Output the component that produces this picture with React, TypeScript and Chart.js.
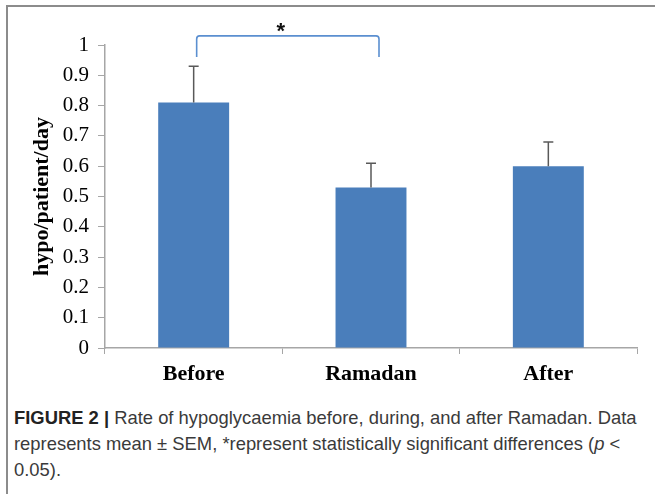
import React, { useEffect, useRef } from "react";
import { Chart, registerables } from "chart.js";

Chart.register(...registerables);

const categories = ["Before", "Ramadan", "After"];
const means = [0.81, 0.53, 0.6];
const sems = [0.12, 0.08, 0.08];
const yTicksMax = 1;
const yStep = 0.1;
const yTitle = "hypo/patient/day";
const sigFrom = 0; // index of Before
const sigTo = 1; // index of Ramadan
const sigLevel = 1.03;
const sigDrop = 0.96;
const sigMark = "*";
const captionBold = "FIGURE 2 |";
const captionLine1 = " Rate of hypoglycaemia before, during, and after Ramadan. Data";
const captionLine2 = "represents mean \u00b1 SEM, *represent statistically significant differences (";
const captionItalic = "p";
const captionLine2End = " <";
const captionLine3 = "0.05).";

const BAR = "#4a7ebb";
const AXIS = "#a6a6a6";

const overlayPlugin = {
  id: "overlay",
  afterDatasetsDraw(chart: any) {
    const { ctx, scales } = chart;
    const x = scales.x;
    const y = scales.y;
    ctx.save();
    // error bars (upper only)
    ctx.strokeStyle = "#595959";
    ctx.lineWidth = 1.5;
    means.forEach((m, i) => {
      const cx = x.getPixelForValue(i);
      const y0 = y.getPixelForValue(m);
      const y1 = y.getPixelForValue(m + sems[i]);
      ctx.beginPath();
      ctx.moveTo(cx, y0);
      ctx.lineTo(cx, y1);
      ctx.moveTo(cx - 5, y1);
      ctx.lineTo(cx + 5, y1);
      ctx.stroke();
    });
    // significance bracket
    const xa = x.getPixelForValue(sigFrom) + 3;
    const xb = x.getPixelForValue(sigTo) + 8;
    const yt = y.getPixelForValue(sigLevel);
    const yd = y.getPixelForValue(sigDrop);
    const r = 3;
    ctx.strokeStyle = "#5b8fd0";
    ctx.lineWidth = 1.6;
    ctx.beginPath();
    ctx.moveTo(xa, yd);
    ctx.lineTo(xa, yt + r);
    ctx.quadraticCurveTo(xa, yt, xa + r, yt);
    ctx.lineTo(xb - r, yt);
    ctx.quadraticCurveTo(xb, yt, xb, yt + r);
    ctx.lineTo(xb, yd);
    ctx.stroke();
    ctx.fillStyle = "#111";
    ctx.font = "bold 22px 'Liberation Sans', Arial, sans-serif";
    ctx.textAlign = "center";
    ctx.textBaseline = "middle";
    ctx.fillText(sigMark, (xa + xb) / 2 - 7, yt - 4);
    ctx.restore();
  },
};

export default function App() {
  const ref = useRef<HTMLCanvasElement>(null);
  useEffect(() => {
    if (!ref.current) return;
    const chart = new Chart(ref.current, {
      type: "bar",
      data: {
        labels: categories,
        datasets: [
          {
            data: means,
            backgroundColor: BAR,
            borderWidth: 0,
            barPercentage: 0.4,
            categoryPercentage: 1,
          },
        ],
      },
      plugins: [overlayPlugin],
      options: {
        animation: false,
        responsive: false,
        maintainAspectRatio: false,
        layout: { padding: { left: 29, top: 45, right: 18, bottom: 0 } },
        plugins: {
          legend: { display: false },
          tooltip: { enabled: false },
        },
        scales: {
          x: {
            grid: {
              display: true,
              drawOnChartArea: false,
              drawTicks: true,
              tickLength: 6,
              color: AXIS,
              offset: true,
            },
            border: { display: true, color: AXIS, width: 1.5 },
            ticks: {
              color: "#000",
              padding: 7,
              font: { family: "'Liberation Serif', 'Times New Roman', serif", size: 22, weight: "bold" },
            },
            afterFit: (s: any) => {
              s.height = 52;
            },
          },
          y: {
            min: 0,
            max: yTicksMax,
            ticks: {
              stepSize: yStep,
              color: "#000",
              padding: 9,
              font: { family: "'Liberation Serif', 'Times New Roman', serif", size: 21 },
              callback: (v: any) => String(Math.round(Number(v) * 10) / 10),
            },
            grid: {
              display: true,
              drawOnChartArea: false,
              drawTicks: true,
              tickLength: 7,
              color: AXIS,
            },
            border: { display: true, color: AXIS, width: 1.5 },
            title: {
              display: true,
              text: yTitle,
              color: "#000",
              padding: 0,
              font: { family: "'Liberation Serif', 'Times New Roman', serif", size: 22, weight: "bold" },
            },
            afterFit: (s: any) => {
              s.width = 76;
            },
          },
        },
      },
    });
    return () => chart.destroy();
  }, []);

  return (
    <div style={{ position: "fixed", left: 0, top: 0, width: 655, height: 494, background: "#fff", overflow: "hidden" }}>
      <div
        style={{
          position: "absolute",
          left: 6,
          top: 5,
          width: 700,
          height: 600,
          borderTop: "2px solid #8c8c8c",
          borderLeft: "2px solid #8c8c8c",
        }}
      />
      <canvas ref={ref} width={655} height={400} style={{ position: "absolute", left: 0, top: 0 }} />
      <div
        style={{
          position: "absolute",
          left: 14,
          top: 405,
          whiteSpace: "nowrap",
          fontFamily: "'Liberation Sans', Arial, sans-serif",
          fontSize: 18.4,
          lineHeight: "26px",
          color: "#3a3a3a",
        }}
      >
        <b style={{ color: "#222" }}>{captionBold}</b>
        {captionLine1}
        <br />
        {captionLine2}
        <i>{captionItalic}</i>
        {captionLine2End}
        <br />
        {captionLine3}
      </div>
    </div>
  );
}
